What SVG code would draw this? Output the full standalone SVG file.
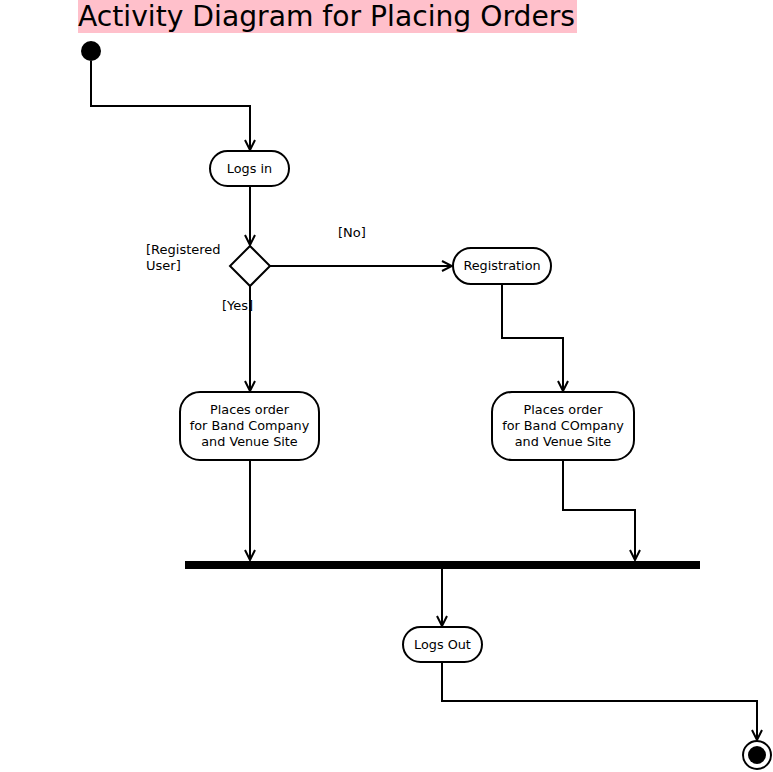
<svg xmlns="http://www.w3.org/2000/svg" width="773" height="772" viewBox="0 0 773 772">
<defs>
<style>
.node{fill:#fff;stroke:#000;stroke-width:2}
.t{font-family:"DejaVu Sans",sans-serif;font-size:12.8px;fill:#000;text-anchor:middle}
.l{font-family:"DejaVu Sans",sans-serif;font-size:13px;fill:#000}
.c{fill:none;stroke:#000;stroke-width:2}
</style>
<marker id="a" viewBox="0 0 12 12" refX="11" refY="6" markerWidth="12" markerHeight="12" markerUnits="userSpaceOnUse" orient="auto">
<path d="M1,1 L11,6 L1,11" fill="none" stroke="#000" stroke-width="2"/>
</marker>
</defs>
<rect width="773" height="772" fill="#fff"/>
<g id="title">
<rect x="78" y="0" width="499" height="33" fill="#ffc0cb"/>
<text x="78" y="26" style="font-family:'DejaVu Sans',sans-serif;font-size:28.2px" fill="#000">Activity Diagram for Placing Orders</text>
</g>
<g id="connectors">
<path class="c" d="M91,61 V106 H250 V150" marker-end="url(#a)"/>
<path class="c" d="M250,186 V245" marker-end="url(#a)"/>
<path class="c" d="M270,266 H452" marker-end="url(#a)"/>
<path class="c" d="M250,286 V391" marker-end="url(#a)"/>
<path class="c" d="M502,284 V338 H563 V391" marker-end="url(#a)"/>
<path class="c" d="M250,460 V560" marker-end="url(#a)"/>
<path class="c" d="M563,460 V510 H635 V560" marker-end="url(#a)"/>
<path class="c" d="M442,569 V626" marker-end="url(#a)"/>
<path class="c" d="M442,662 V701 H757 V740" marker-end="url(#a)"/>
</g>
<g id="start"><circle cx="91" cy="51" r="10" fill="#000"/></g>
<g id="logsin">
<rect class="node" x="210" y="151" width="79" height="35" rx="17.5"/>
<text class="t" x="249.5" y="173">Logs in</text>
</g>
<g id="decision">
<path class="node" d="M250,246 L270,266 L250,286 L230,266 Z"/>
<text class="l" x="146" y="254">[Registered</text>
<text class="l" x="146" y="270">User]</text>
<text class="l" x="338" y="237">[No]</text>
<text class="l" x="222" y="310">[Yes]</text>
</g>
<g id="registration">
<rect class="node" x="453" y="248" width="98" height="36" rx="18"/>
<text class="t" x="502" y="270">Registration</text>
</g>
<g id="order1">
<rect class="node" x="180" y="392" width="139" height="68" rx="20"/>
<text class="t" x="249.5" y="414">Places order</text>
<text class="t" x="249.5" y="430">for Band Company</text>
<text class="t" x="249.5" y="446">and Venue Site</text>
</g>
<g id="order2">
<rect class="node" x="492" y="392" width="142" height="68" rx="20"/>
<text class="t" x="563" y="414">Places order</text>
<text class="t" x="563" y="430">for Band COmpany</text>
<text class="t" x="563" y="446">and Venue Site</text>
</g>
<g id="join"><rect x="185" y="561" width="515" height="8" fill="#000"/></g>
<g id="logsout">
<rect class="node" x="403" y="627" width="79" height="35" rx="17.5"/>
<text class="t" x="442.5" y="649">Logs Out</text>
</g>
<g id="end">
<circle cx="757" cy="755" r="14" fill="#fff" stroke="#000" stroke-width="2"/>
<circle cx="757" cy="755" r="9" fill="#000"/>
</g>
</svg>
